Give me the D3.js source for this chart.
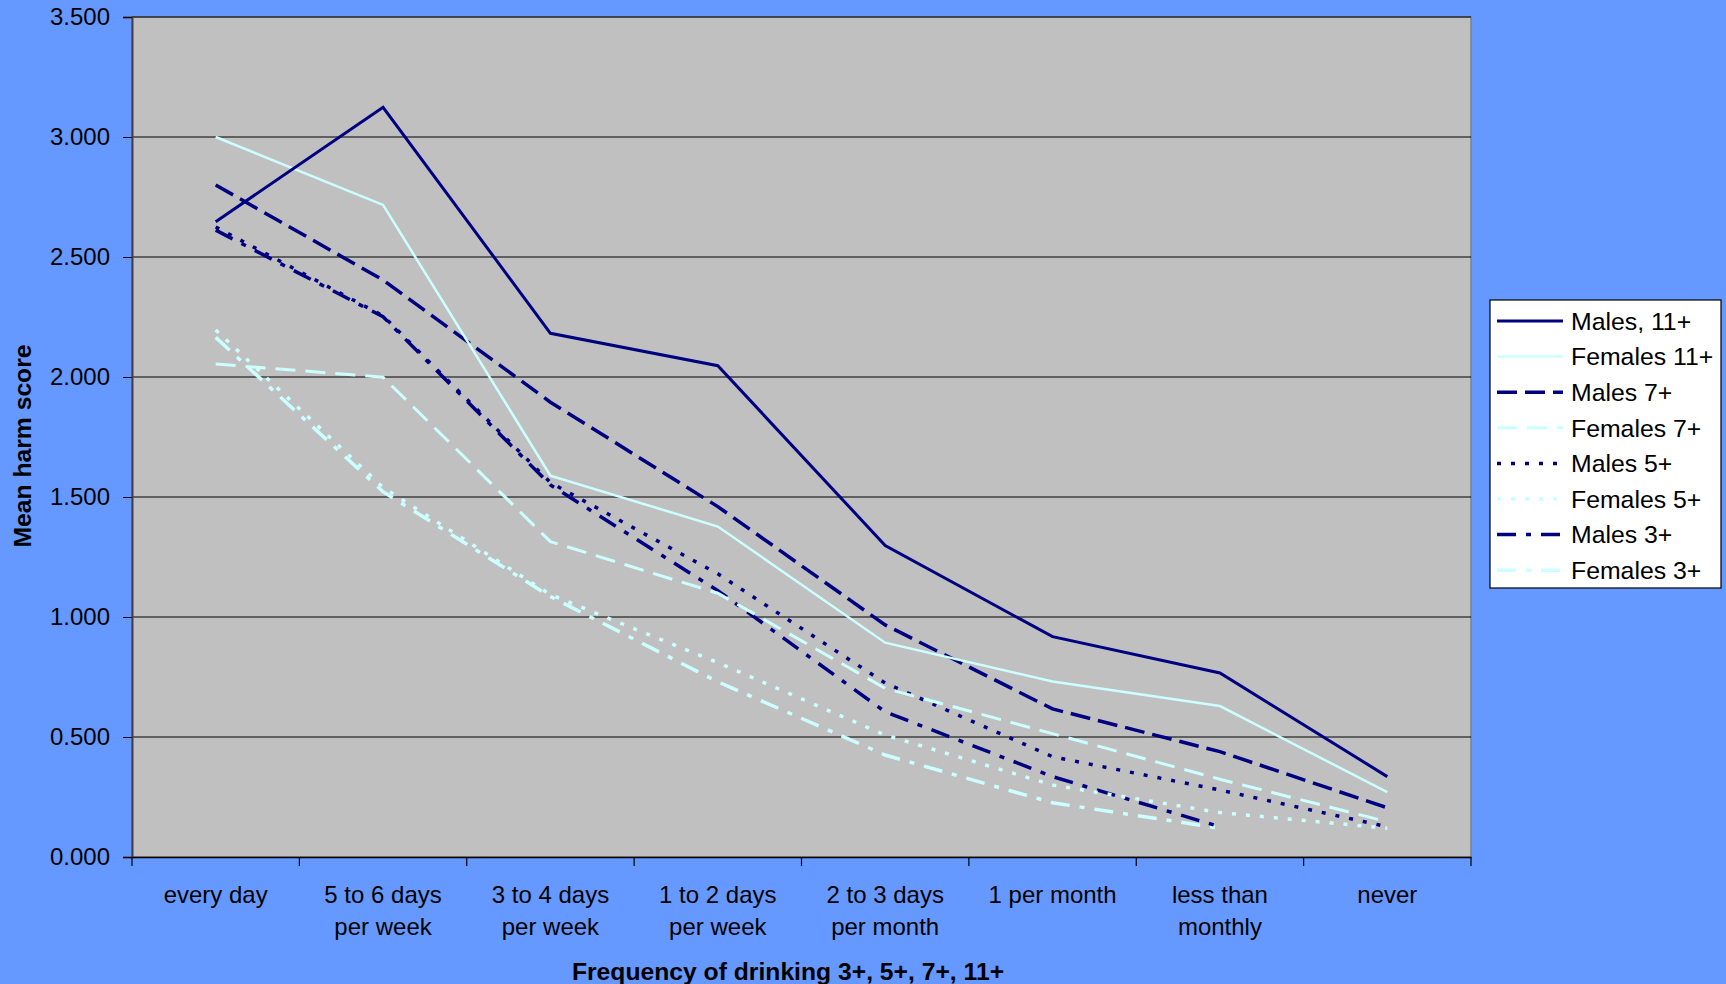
<!DOCTYPE html>
<html><head><meta charset="utf-8">
<script src="https://cdn.jsdelivr.net/npm/d3@7"></script>
<style>html,body{margin:0;padding:0;background:#6699FF;}svg{display:block;}</style>
</head><body><svg id="chart" width="1726" height="984"></svg>
<script>
const categories = [["every day"],["5 to 6 days","per week"],["3 to 4 days","per week"],["1 to 2 days","per week"],["2 to 3 days","per month"],["1 per month"],["less than","monthly"],["never"]];
const yTicks = [0,0.5,1,1.5,2,2.5,3,3.5];
const seriesNames = ["Males, 11+","Females 11+","Males 7+","Females 7+","Males 5+","Females 5+","Males 3+","Females 3+"];
const males11   = [2.647, 3.124, 2.182, 2.047, 1.298, 0.918, 0.767, 0.335];
const females11 = [3.000, 2.717, 1.589, 1.377, 0.893, 0.731, 0.629, 0.270];
const males7    = [2.800, 2.404, 1.895, 1.460, 0.967, 0.617, 0.439, 0.205];
const females7  = [2.054, 1.999, 1.314, 1.099, 0.703, 0.514, 0.324, 0.147];
const males5    = [2.625, 2.255, 1.560, 1.180, 0.725, 0.418, 0.279, 0.126];
const females5  = [2.196, 1.540, 1.093, 0.810, 0.508, 0.300, 0.185, 0.120];
const males3    = [2.612, 2.251, 1.550, 1.110, 0.605, 0.335, 0.126, null];
const females3  = [2.165, 1.522, 1.085, 0.730, 0.425, 0.226, 0.120, null];

const NAVY = "#000080", CYAN = "#CCFFFF";
const styles = [
  {c:NAVY, w:3, d:null},
  {c:CYAN, w:2.5, d:null},
  {c:NAVY, w:3.5, d:"20,8"},
  {c:CYAN, w:3, d:"20,10"},
  {c:NAVY, w:3.5, d:"4,10"},
  {c:CYAN, w:3.5, d:"4,10"},
  {c:NAVY, w:3.5, d:"19,10,5,10"},
  {c:CYAN, w:3.5, d:"19,10,5,10"}
];
const allSeries = [males11, females11, males7, females7, males5, females5, males3, females3];

const svg = d3.select("#chart");
const W = 1726, H = 984;
const L = 132, R = 1471, T = 17, B = 857;
svg.append("rect").attr("width",W).attr("height",H).attr("fill","#6699FF");

const x = d3.scaleBand().domain(d3.range(categories.length)).range([L,R]).padding(0);
const y = d3.scaleLinear().domain([0,3.5]).range([B,T]);

svg.append("rect").attr("x",L).attr("y",T).attr("width",R-L).attr("height",B-T)
  .attr("fill","#C0C0C0").attr("stroke","#808080").attr("stroke-width",1.5);

// gridlines
svg.append("g").selectAll("line").data(yTicks.filter(v=>v>0)).join("line")
  .attr("x1",L).attr("x2",R).attr("y1",d=>y(d)).attr("y2",d=>y(d))
  .attr("stroke","#000").attr("stroke-width",1.2);

const font = "'Liberation Sans', Arial, sans-serif";

// y axis
const yAxis = svg.append("g").attr("transform",`translate(${L},0)`)
  .call(d3.axisLeft(y).tickValues(yTicks).tickFormat(d3.format(".3f")).tickSize(9).tickPadding(13));
yAxis.select(".domain").attr("stroke","#404040").attr("stroke-width",2);
yAxis.selectAll(".tick line").attr("stroke","#000");
yAxis.selectAll("text").attr("font-family",font).attr("font-size",24).attr("fill","#000");

// x axis
const xAxis = svg.append("g").attr("transform",`translate(0,${B})`)
  .call(d3.axisBottom(x).tickSize(0).tickFormat(""));
xAxis.select(".domain").attr("stroke","#000").attr("stroke-width",1.5);
const bounds = d3.range(categories.length+1).map(i => i<categories.length ? x(i) : x(i-1)+x.bandwidth());
svg.append("g").selectAll("line").data(bounds).join("line")
  .attr("x1",d=>d).attr("x2",d=>d).attr("y1",B).attr("y2",B+9)
  .attr("stroke","#000").attr("stroke-width",1.2);
const lbl = svg.append("g").selectAll("text").data(categories).join("text")
  .attr("x",(d,i)=>x(i)+x.bandwidth()/2).attr("y",903)
  .attr("text-anchor","middle").attr("font-family",font).attr("font-size",24).attr("fill","#000");
lbl.selectAll("tspan").data(d=>d).join("tspan")
  .attr("x",function(){return this.parentNode.getAttribute("x");})
  .attr("dy",(d,i)=>i===0?0:31.5).text(d=>d);

// axis titles
svg.append("text").attr("x",788).attr("y",980).attr("text-anchor","middle")
  .attr("font-family",font).attr("font-weight","bold").attr("font-size",24.7).text("Frequency of drinking 3+, 5+, 7+, 11+");
svg.append("text").attr("transform",`translate(31,${(T+B)/2+9}) rotate(-90)`).attr("text-anchor","middle")
  .attr("font-family",font).attr("font-weight","bold").attr("font-size",24.7).text("Mean harm score");

// lines
const line = d3.line().defined(d=>d!=null).x((d,i)=>x(i)+x.bandwidth()/2).y(d=>y(d));
const order = [7,6,5,4,3,2,1,0];
svg.append("g").selectAll("path").data(order).join("path")
  .attr("d",k=>line(allSeries[k]))
  .attr("fill","none").attr("stroke",k=>styles[k].c).attr("stroke-width",k=>styles[k].w)
  .attr("stroke-dasharray",k=>styles[k].d).attr("stroke-linejoin","miter");

// legend
const lg = svg.append("g");
lg.append("rect").attr("x",1490).attr("y",300).attr("width",231).attr("height",288)
  .attr("fill","#fff").attr("stroke","#000").attr("stroke-width",1.2);
const items = lg.selectAll("g.item").data(seriesNames).join("g").attr("class","item")
  .attr("transform",(d,i)=>`translate(0,${321+i*35.6})`);
items.append("line").attr("x1",1497).attr("x2",1563).attr("y1",0).attr("y2",0)
  .attr("stroke",(d,i)=>styles[i].c).attr("stroke-width",(d,i)=>styles[i].w)
  .attr("stroke-dasharray",(d,i)=>styles[i].d);
items.append("text").attr("x",1571).attr("y",8.8).attr("font-family",font).attr("font-size",24.8)
  .attr("fill","#000").text(d=>d);
</script></body></html>
